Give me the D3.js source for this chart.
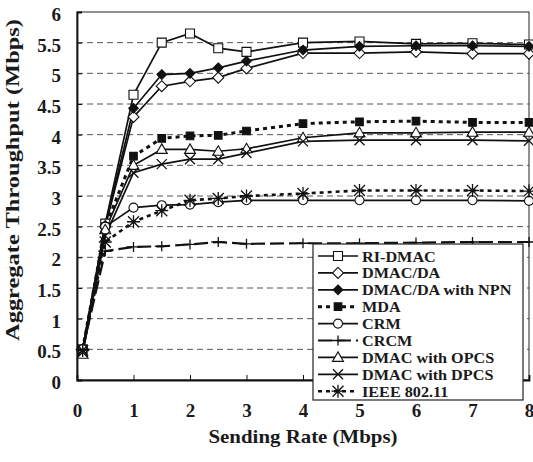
<!DOCTYPE html>
<html>
<head>
<meta charset="utf-8">
<script src="https://cdn.jsdelivr.net/npm/d3@7"></script>
<style>
  body { margin: 0; background: #fff; }
  svg { display: block; }
  text { font-family: "Liberation Serif", "Times New Roman", serif; font-weight: bold; fill: #1a1a1a; }
</style>
</head>
<body>
<div id="chart"></div>
<script>
// Sending rate (Mbps)
const rates = [0.1, 0.5, 1, 1.5, 2, 2.5, 3, 4, 5, 6, 7, 8];

// Aggregate throughput (Mbps) per scheme
const riDmac    = [0.5, 2.55, 4.65, 5.5, 5.65, 5.41, 5.35, 5.5, 5.52, 5.48, 5.49, 5.47];
const dmacDa    = [0.5, 2.5, 4.29, 4.79, 4.87, 4.93, 5.08, 5.33, 5.33, 5.35, 5.32, 5.32];
const dmacDaNpn = [0.5, 2.52, 4.43, 4.98, 5.0, 5.09, 5.2, 5.38, 5.44, 5.45, 5.45, 5.44];
const mda       = [0.5, 2.5, 3.65, 3.94, 3.98, 3.99, 4.06, 4.18, 4.21, 4.22, 4.2, 4.2];
const crm       = [0.5, 2.5, 2.81, 2.85, 2.86, 2.9, 2.93, 2.93, 2.93, 2.93, 2.93, 2.92];
const crcm      = [0.5, 2.1, 2.17, 2.18, 2.21, 2.25, 2.22, 2.23, 2.23, 2.24, 2.25, 2.25];
const dmacOpcs  = [0.42, 2.45, 3.5, 3.76, 3.76, 3.73, 3.77, 3.95, 4.03, 4.03, 4.04, 4.04];
const dmacDpcs  = [0.45, 2.35, 3.38, 3.52, 3.6, 3.6, 3.7, 3.89, 3.91, 3.91, 3.91, 3.9];
const ieee80211 = [0.48, 2.25, 2.58, 2.76, 2.93, 2.96, 3.0, 3.04, 3.09, 3.09, 3.09, 3.08];

const seriesNames = ["RI-DMAC", "DMAC/DA", "DMAC/DA with NPN", "MDA", "CRM", "CRCM",
                     "DMAC with OPCS", "DMAC with DPCS", "IEEE 802.11"];
const seriesValues = [riDmac, dmacDa, dmacDaNpn, mda, crm, crcm, dmacOpcs, dmacDpcs, ieee80211];

const xTicks = [0, 1, 2, 3, 4, 5, 6, 7, 8];
const yTicks = [0, 0.5, 1, 1.5, 2, 2.5, 3, 3.5, 4, 4.5, 5, 5.5, 6];

// line / marker styles per series (same order as names)
const styles = [
  { marker: "square",   fill: "#fff", dash: null,   width: 1.7 },
  { marker: "diamond",  fill: "#fff", dash: null,   width: 1.7 },
  { marker: "diamondF", fill: "#111", dash: null,   width: 1.7 },
  { marker: "squareF",  fill: "#111", dash: "4,4",  width: 3 },
  { marker: "circle",   fill: "#fff", dash: null,   width: 1.7 },
  { marker: "plus",     fill: "none", dash: "14,5", width: 2.2 },
  { marker: "triangle", fill: "#fff", dash: null,   width: 1.7 },
  { marker: "x",        fill: "none", dash: null,   width: 1.7 },
  { marker: "asterisk", fill: "none", dash: "4,4",  width: 2.6 }
];

const width = 533, height = 462;
const margin = { left: 77, right: 4, top: 12, bottom: 82 };

const svg = d3.select("#chart").append("svg")
  .attr("width", width)
  .attr("height", height);

const x = d3.scaleLinear().domain([0, 8]).range([margin.left, width - margin.right]);
const y = d3.scaleLinear().domain([0, 6]).range([height - margin.bottom, margin.top]);

// marker shapes
function markerPath(type) {
  switch (type) {
    case "square":   return "M-4.5,-4.5H4.5V4.5H-4.5Z";
    case "squareF":  return "M-3.8,-3.8H3.8V3.8H-3.8Z";
    case "diamond":  return "M0,-5.5L5.5,0L0,5.5L-5.5,0Z";
    case "diamondF": return "M0,-4.8L4.8,0L0,4.8L-4.8,0Z";
    case "circle":   return d3.symbol(d3.symbolCircle, 64)();
    case "triangle": return "M0,-5.5L5.5,4L-5.5,4Z";
    case "plus":     return "M-7,0H7M0,-5V5";
    case "x":        return "M-5,-5L5,5M-5,5L5,-5";
    case "asterisk": return "M-5.5,-5.5L5.5,5.5M-5.5,5.5L5.5,-5.5M-6.5,0H6.5M0,-6.5V6.5";
  }
}

function drawMarker(g, type, fill, cx, cy) {
  const open = ["plus", "x", "asterisk"].includes(type);
  g.append("path")
    .attr("d", markerPath(type))
    .attr("transform", `translate(${cx},${cy})`)
    .attr("fill", open ? "none" : fill)
    .attr("stroke", "#111")
    .attr("stroke-width", open ? 1.3 : 1.1);
}

// gridlines
const grid = svg.append("g");
grid.selectAll("line")
  .data(yTicks.filter(d => d > 0 && d < 6))
  .enter().append("line")
  .attr("x1", x(0)).attr("x2", x(8))
  .attr("y1", d => y(d)).attr("y2", d => y(d))
  .attr("stroke", "#555")
  .attr("stroke-width", 1)
  .attr("stroke-dasharray", "6,4");

// frame (top, right)
svg.append("rect")
  .attr("x", x(0)).attr("y", y(6))
  .attr("width", x(8) - x(0)).attr("height", y(0) - y(6))
  .attr("fill", "none")
  .attr("stroke", "#222")
  .attr("stroke-width", 1);

// axes
const xAxis = svg.append("g")
  .attr("transform", `translate(0,${y(0)})`)
  .call(d3.axisBottom(x).tickValues(xTicks).tickSize(-5).tickPadding(24).tickFormat(d3.format("d")));
const yAxis = svg.append("g")
  .attr("transform", `translate(${x(0)},0)`)
  .call(d3.axisLeft(y).tickValues(yTicks).tickSize(-5).tickPadding(16).tickFormat(d => d));

[xAxis, yAxis].forEach(a => {
  a.select(".domain").attr("stroke", "#111").attr("stroke-width", 1.8);
  a.selectAll(".tick line").attr("stroke", "#111").attr("stroke-width", 1);
  a.selectAll(".tick text")
    .attr("fill", "#1a1a1a")
    .style("font-family", "'Liberation Serif', 'Times New Roman', serif")
    .style("font-weight", "bold")
    .style("font-size", "19px");
});
yAxis.selectAll(".tick text").attr("dy", "0.45em");

// series lines and markers
const line = d3.line()
  .x((d, i) => x(rates[i]))
  .y(d => y(d));

const plot = svg.append("g");
seriesValues.forEach((vals, s) => {
  const st = styles[s];
  plot.append("path")
    .attr("d", line(vals))
    .attr("fill", "none")
    .attr("stroke", "#111")
    .attr("stroke-width", st.width)
    .attr("stroke-dasharray", st.dash);
});
seriesValues.forEach((vals, s) => {
  const st = styles[s];
  const mg = plot.append("g");
  vals.forEach((v, i) => drawMarker(mg, st.marker, st.fill, x(rates[i]), y(v)));
});

// legend
const legend = svg.append("g");
legend.append("rect")
  .attr("x", 313).attr("y", 244)
  .attr("width", 210).attr("height", 156)
  .attr("fill", "#fff")
  .attr("stroke", "#222")
  .attr("stroke-width", 1.2);

seriesNames.forEach((name, i) => {
  const st = styles[i];
  const ly = 256 + i * 16.9;
  legend.append("line")
    .attr("x1", 318).attr("x2", 358)
    .attr("y1", ly).attr("y2", ly)
    .attr("stroke", "#111")
    .attr("stroke-width", st.width)
    .attr("stroke-dasharray", st.dash);
  drawMarker(legend, st.marker, st.fill, 338, ly);
  const t = legend.append("text")
    .attr("x", 362).attr("y", ly + 5.5)
    .style("font-size", "15px")
    .text(name);
  // stretch a little horizontally, like the original lettering
  t.attr("textLength", t.node().getComputedTextLength() * 1.08)
    .attr("lengthAdjust", "spacingAndGlyphs");
});

// axis titles
svg.append("text")
  .attr("x", x(4)).attr("y", 443)
  .attr("text-anchor", "middle")
  .style("font-size", "19px")
  .attr("textLength", 189)
  .attr("lengthAdjust", "spacingAndGlyphs")
  .text("Sending Rate (Mbps)");

svg.append("text")
  .attr("transform", "translate(19,180) rotate(-90)")
  .attr("text-anchor", "middle")
  .style("font-size", "19px")
  .attr("textLength", 322)
  .attr("lengthAdjust", "spacingAndGlyphs")
  .text("Aggregate Throughput (Mbps)");
</script>
</body>
</html>
